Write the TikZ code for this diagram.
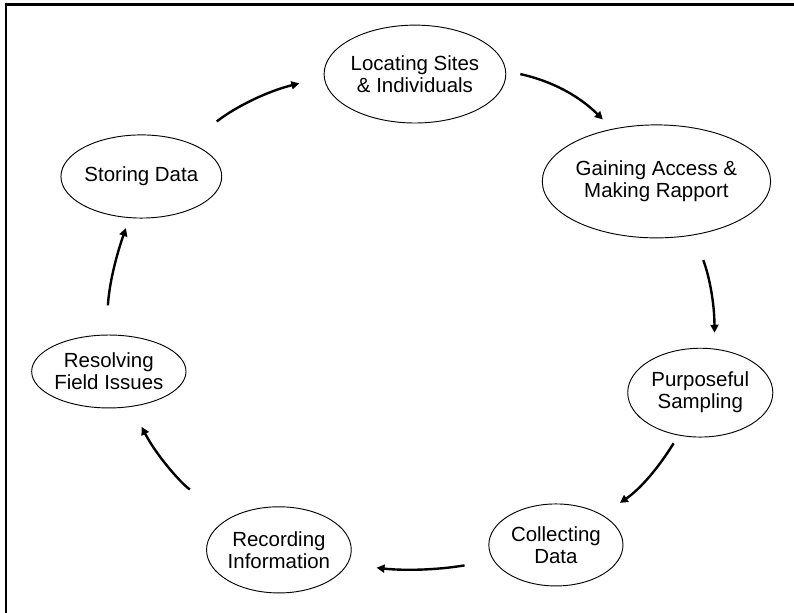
\documentclass[tikz,border=0pt]{standalone}
\usepackage{fontspec}
\setmainfont{Liberation Sans}
\usepackage{tikz}
\usetikzlibrary{arrows.meta,shapes.geometric}

\begin{document}
\begin{tikzpicture}[
  stage/.style={draw, ellipse, line width=0.7pt, inner sep=0pt, align=center,
    font=\fontsize{15.4}{16.5}\selectfont},
  flow/.style={-{Triangle[length=6pt,width=6pt]}, line width=1.8pt}
]
\useasboundingbox (0,0) rectangle (21.01,16.22);

% Frame
\draw[line width=1.6pt] (0.17,0) -- (0.17,16.10) -- (21.01,16.10);

% Stages
\node[stage, minimum width=4.29cm, minimum height=2.59cm] (locate) at (10.98,14.26) {Locating Sites\\\& Individuals};
\node[stage, minimum width=4.84cm, minimum height=2.99cm] (gain) at (17.37,11.42) {Gaining Access \&\\Making Rapport};
\node[stage, minimum width=3.84cm, minimum height=2.35cm] (purpose) at (18.53,5.83) {Purposeful\\Sampling};
\node[stage, minimum width=3.55cm, minimum height=2.17cm] (collect) at (14.71,1.80) {Collecting\\Data};
\node[stage, minimum width=3.70cm, minimum height=2.28cm] (record) at (7.38,1.67) {Recording\\Information};
\node[stage, minimum width=3.76cm, minimum height=1.93cm] (resolve) at (2.88,6.39) {Resolving\\Field Issues};
\node[stage, minimum width=3.52cm, minimum height=2.20cm] (store) at (3.74,11.55) {Storing Data};

% Arrows
\draw[flow, shorten <=26pt, shorten >=19pt] (store.35) to[bend left=12] (locate.182);
\draw[flow, shorten <=11pt, shorten >=10pt] (locate.2) to[bend left=16] (gain.130);
\draw[flow, shorten <=20pt, shorten >=12pt] (gain.-55) to[bend left=10] (purpose.72);
\draw[flow, shorten <=7pt, shorten >=16pt] (purpose.243) to[bend left=12] (collect.33);
\draw[flow, shorten <=22pt, shorten >=22pt] (collect.194) to[bend left=8] (record.-12);
\draw[flow, shorten <=38pt, shorten >=17pt] (record.144) to[bend left=15] (resolve.-58);
\draw[flow, shorten <=22pt, shorten >=8pt] (resolve.94) to[bend left=8] (store.254);
\end{tikzpicture}
\end{document}
